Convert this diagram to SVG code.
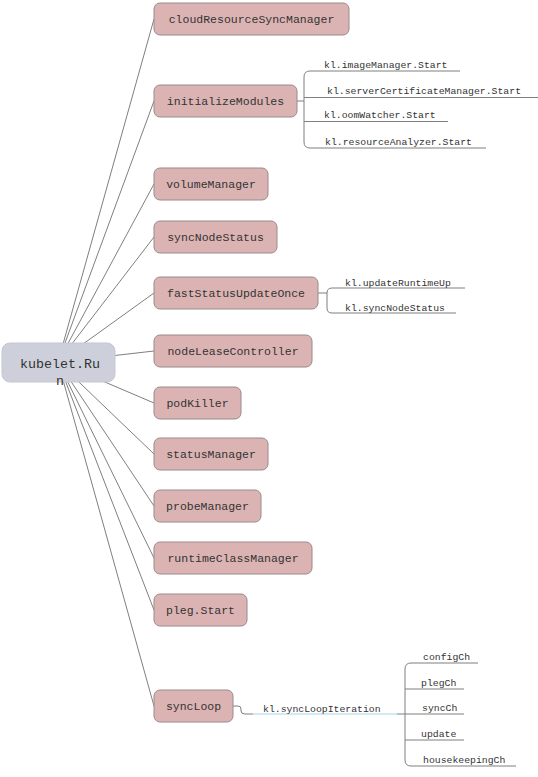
<svg xmlns="http://www.w3.org/2000/svg" width="538" height="777" viewBox="0 0 538 777">
<style>
.node rect{fill:#dcb3b3;stroke:#9a8a8a;stroke-width:1}
.node text{font-family:"Liberation Mono",monospace;font-size:11.5px;fill:#333;text-anchor:middle}
.sub{font-family:"Liberation Mono",monospace;font-size:9.8px;fill:#333}
.ln{stroke:#7f7f7f;stroke-width:1;fill:none}
.blue{stroke:#a8d3e3;stroke-width:1;fill:none}
</style>
<rect width="538" height="777" fill="#fff"/>
<g id="connectors">
<line class="ln" x1="58" y1="362" x2="154" y2="19"/>
<line class="ln" x1="58" y1="362" x2="154" y2="101"/>
<line class="ln" x1="58" y1="362" x2="154" y2="184"/>
<line class="ln" x1="58" y1="362" x2="154" y2="237"/>
<line class="ln" x1="58" y1="362" x2="154" y2="293"/>
<line class="ln" x1="58" y1="362" x2="154" y2="351"/>
<line class="ln" x1="58" y1="362" x2="154" y2="403"/>
<line class="ln" x1="58" y1="362" x2="154" y2="454"/>
<line class="ln" x1="58" y1="362" x2="154" y2="506"/>
<line class="ln" x1="58" y1="362" x2="154" y2="558"/>
<line class="ln" x1="58" y1="362" x2="154" y2="610"/>
<line class="ln" x1="58" y1="362" x2="154" y2="706"/>
<!-- initializeModules -->
<path class="ln" d="M297 101 H304"/>
<path class="ln" d="M460 71 H310 Q304 71 304 77 V142 Q304 148 310 148 H486"/>
<path class="ln" d="M304 97.5 H538"/>
<path class="ln" d="M304 121.5 H448"/>
<!-- fastStatusUpdateOnce -->
<path class="ln" d="M318 293 H327"/>
<path class="ln" d="M465 288 H332 Q327 288 327 293 V308 Q327 313 332 313 H456"/>
<!-- syncLoop -->
<path class="ln" d="M232 706 H238 Q241 706 241 709 V711 Q241 714 245 714 H253"/>
<path class="blue" d="M253 714 H397"/>
<path class="ln" d="M397 714 H405"/>
<path class="ln" d="M478 663 H411 Q405 663 405 669 V760 Q405 766 411 766 H516"/>
<path class="ln" d="M405 689 H464"/>
<path class="ln" d="M405 714 H464"/>
<path class="ln" d="M405 740 H464"/>
</g>
<g id="root">
<rect x="2" y="343" width="113" height="39" rx="8" fill="#cdd0da" stroke="#c4c7d0"/>
<text x="60" y="368" font-family="Liberation Mono,monospace" font-size="13.3" fill="#333" text-anchor="middle">kubelet.Ru</text>
<text x="60" y="385" font-family="Liberation Mono,monospace" font-size="13.3" fill="#333" text-anchor="middle">n</text>
</g>
<g id="cloudResourceSyncManager" class="node"><rect x="154" y="3" width="195" height="32" rx="6"/><text x="251.5" y="23">cloudResourceSyncManager</text></g>
<g id="initializeModules" class="node"><rect x="154" y="85" width="143" height="32" rx="6"/><text x="225.5" y="105">initializeModules</text></g>
<g id="volumeManager" class="node"><rect x="154" y="168" width="114" height="32" rx="6"/><text x="211" y="188">volumeManager</text></g>
<g id="syncNodeStatus" class="node"><rect x="154" y="221" width="123" height="32" rx="6"/><text x="215.5" y="241">syncNodeStatus</text></g>
<g id="fastStatusUpdateOnce" class="node"><rect x="154" y="277" width="164" height="32" rx="6"/><text x="236" y="297">fastStatusUpdateOnce</text></g>
<g id="nodeLeaseController" class="node"><rect x="154" y="335" width="158" height="32" rx="6"/><text x="233" y="355">nodeLeaseController</text></g>
<g id="podKiller" class="node"><rect x="154" y="387" width="87" height="32" rx="6"/><text x="197.5" y="407">podKiller</text></g>
<g id="statusManager" class="node"><rect x="154" y="438" width="114" height="32" rx="6"/><text x="211" y="458">statusManager</text></g>
<g id="probeManager" class="node"><rect x="154" y="490" width="107" height="32" rx="6"/><text x="207.5" y="510">probeManager</text></g>
<g id="runtimeClassManager" class="node"><rect x="154" y="542" width="158" height="32" rx="6"/><text x="233" y="562">runtimeClassManager</text></g>
<g id="plegStart" class="node"><rect x="154" y="594" width="93" height="32" rx="6"/><text x="200.5" y="614">pleg.Start</text></g>
<g id="syncLoop" class="node"><rect x="154" y="690" width="79" height="32" rx="6"/><text x="193.5" y="710">syncLoop</text></g>
<g id="labels">
<text class="sub" x="324" y="68">kl.imageManager.Start</text>
<text class="sub" x="327" y="94">kl.serverCertificateManager.Start</text>
<text class="sub" x="324" y="118">kl.oomWatcher.Start</text>
<text class="sub" x="325" y="145">kl.resourceAnalyzer.Start</text>
<text class="sub" x="345" y="286">kl.updateRuntimeUp</text>
<text class="sub" x="345" y="311">kl.syncNodeStatus</text>
<text class="sub" x="263" y="712">kl.syncLoopIteration</text>
<text class="sub" x="423" y="660">configCh</text>
<text class="sub" x="421" y="686">plegCh</text>
<text class="sub" x="422" y="711">syncCh</text>
<text class="sub" x="421" y="737">update</text>
<text class="sub" x="423" y="763">housekeepingCh</text>
</g>
</svg>
